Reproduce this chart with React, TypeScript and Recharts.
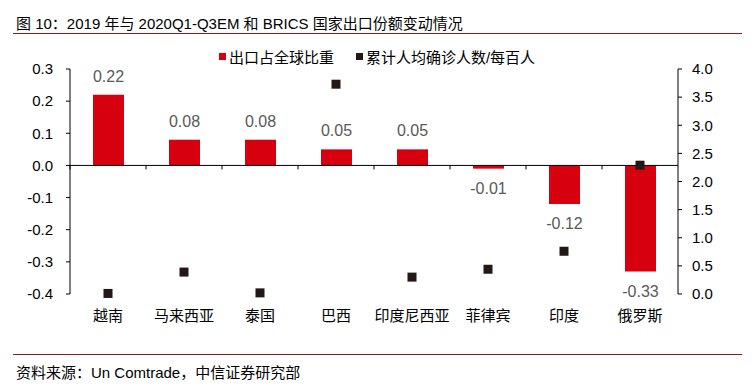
import React from "react";
import { Bar, ComposedChart, LabelList, ReferenceLine, Scatter, XAxis, YAxis } from "recharts";

const countries = ["越南", "马来西亚", "泰国", "巴西", "印度尼西亚", "菲律宾", "印度", "俄罗斯"];
const exportShare = [0.22, 0.08, 0.08, 0.05, 0.05, -0.01, -0.12, -0.33];
const casesPer100 = [0.01, 0.39, 0.02, 3.73, 0.3, 0.44, 0.76, 2.29];
const leftTicks = [-0.4, -0.3, -0.2, -0.1, 0, 0.1, 0.2, 0.3];
const rightTicks = [0, 0.5, 1, 1.5, 2, 2.5, 3, 3.5, 4];

const data = countries.map((name, i) => ({ name, share: exportShare[i], cases: casesPer100[i] }));

const FONT = "'Liberation Sans', Arial, 'Noto Sans CJK SC', sans-serif";
const RED = "#d7000f";
const DARK = "#231815";

const BarLabel = (props: any) => {
    const { x, y, width, height, value } = props;
    const top = Math.min(y, y + height);
    const bottom = Math.max(y, y + height);
    const cx = x + width / 2;
    const ty = value >= 0 ? top - 13 : bottom + 25;
    return (
        <text x={cx} y={ty} textAnchor="middle" fill="#595959" fontSize={16} fontFamily={FONT}>
            {Number(value).toFixed(2)}
        </text>
    );
};

const Square = (props: any) => {
    const { cx, cy } = props;
    return <rect x={cx - 4.5} y={cy - 4.5} width={9} height={9} fill={DARK} />;
};

// zero line with little marks between the categories
const ZeroLine = (props: any) => {
    const { x1, x2, y1 } = props;
    const step = (x2 - x1) / countries.length;
    return (
        <g>
            <line x1={x1} x2={x2} y1={y1} y2={y1} stroke="#000" strokeWidth={1} />
            {countries.map((_, i) => (
                <line key={i} x1={x1 + step * i} x2={x1 + step * i} y1={y1} y2={y1 + 4} stroke="#000" />
            ))}
        </g>
    );
};

export default function App() {
    return (
        <div style={{ position: "absolute", left: 0, top: 0, width: 754, height: 388, background: "#fff", fontFamily: FONT }}>
            <div style={{ position: "absolute", left: 16, top: 12, fontSize: 15, color: "#000", whiteSpace: "nowrap" }}>
                图 10：2019 年与 2020Q1-Q3EM 和 BRICS 国家出口份额变动情况
            </div>
            <div style={{ position: "absolute", left: 13, top: 33, width: 729, height: 1, background: "#8b1a1a" }} />

            <div
                style={{
                    position: "absolute", left: 0, top: 46, width: 754, display: "flex",
                    justifyContent: "center", fontSize: 15, color: "#000",
                }}
            >
                <span style={{ display: "flex", alignItems: "center", marginRight: 22 }}>
                    <span style={{ width: 7, height: 7, background: RED, marginRight: 3 }} />
                    出口占全球比重
                </span>
                <span style={{ display: "flex", alignItems: "center" }}>
                    <span style={{ width: 7, height: 7, background: DARK, marginRight: 3 }} />
                    累计人均确诊人数/每百人
                </span>
            </div>

            <ComposedChart
                width={754}
                height={340}
                data={data}
                margin={{ top: 69, right: 16, bottom: 16, left: 10 }}
                style={{ position: "absolute", left: 0, top: 0 }}
            >
                <XAxis
                    dataKey="name"
                    axisLine={false}
                    tickLine={false}
                    tickSize={0}
                    tickMargin={16}
                    height={30}
                    interval={0}
                    tick={{ fill: "#000", fontSize: 15, fontFamily: FONT }}
                />
                <YAxis
                    yAxisId="left"
                    domain={[-0.4, 0.3]}
                    ticks={leftTicks}
                    tickFormatter={(v) => Number(v).toFixed(1)}
                    width={60}
                    tickSize={4}
                    tickMargin={13}
                    stroke="#000"
                    tick={{ fill: "#000", fontSize: 15, fontFamily: FONT }}
                    allowDataOverflow
                />
                <YAxis
                    yAxisId="right"
                    orientation="right"
                    domain={[0, 4]}
                    ticks={rightTicks}
                    tickFormatter={(v) => Number(v).toFixed(1)}
                    width={60}
                    tickSize={4}
                    tickMargin={10}
                    stroke="#000"
                    tick={{ fill: "#000", fontSize: 15, fontFamily: FONT }}
                />
                <ReferenceLine yAxisId="left" y={0} shape={ZeroLine} />
                <Bar yAxisId="left" dataKey="share" fill={RED} barSize={31} isAnimationActive={false}>
                    <LabelList dataKey="share" content={BarLabel} />
                </Bar>
                <Scatter yAxisId="right" dataKey="cases" fill={DARK} shape={Square} isAnimationActive={false} />
            </ComposedChart>

            <div style={{ position: "absolute", left: 13, top: 354, width: 729, height: 1, background: "#8b1a1a" }} />
            <div style={{ position: "absolute", left: 16, top: 361, fontSize: 15, color: "#000", whiteSpace: "nowrap" }}>
                资料来源：Un Comtrade，中信证券研究部
            </div>
        </div>
    );
}
